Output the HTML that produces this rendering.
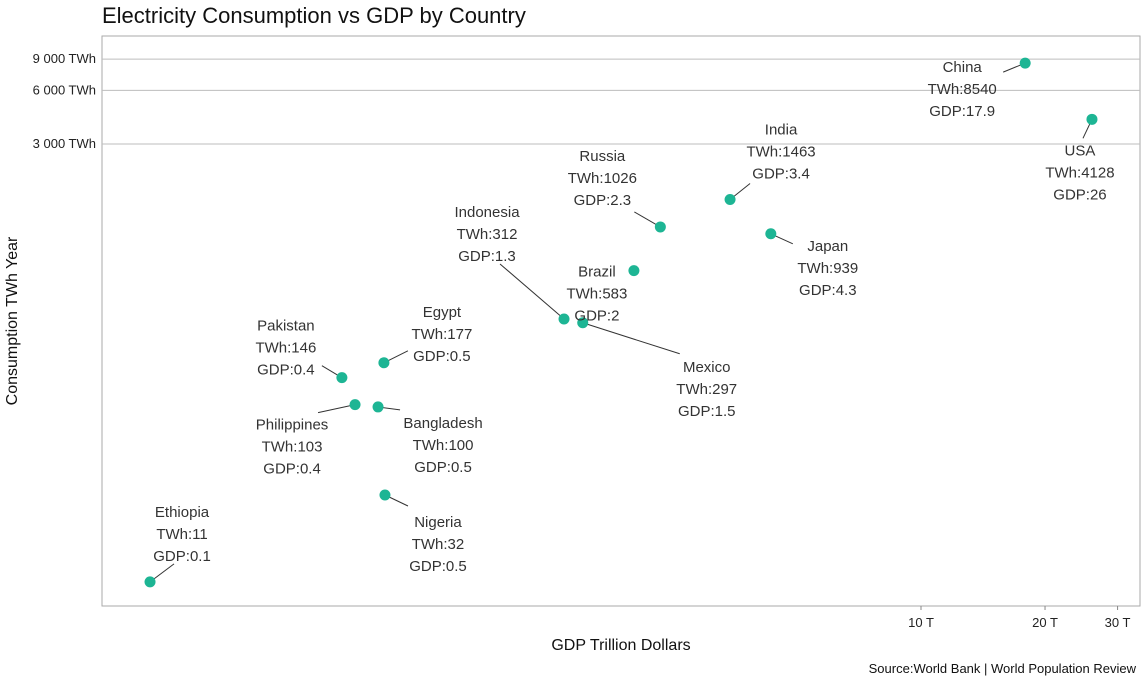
<!DOCTYPE html>
<html><head><meta charset="utf-8"><style>
body{margin:0;background:#fff;font-family:"Liberation Sans",sans-serif;}
svg text{font-family:"Liberation Sans",sans-serif;}
</style></head><body>
<svg width="1143" height="678" viewBox="0 0 1143 678">
<text x="102" y="23" font-size="22" fill="#111">Electricity Consumption vs GDP by Country</text>
<rect x="102" y="36" width="1038" height="570" fill="none" stroke="#aaa"/>
<g id="grid"></g><g id="leaders"></g><g id="dots"></g><g id="labels"></g>
<text x="621" y="650" font-size="16" text-anchor="middle" fill="#111">GDP Trillion Dollars</text>
<text transform="translate(17,321) rotate(-90)" font-size="16" text-anchor="middle" fill="#111">Consumption TWh Year</text>
<text x="1136" y="673" font-size="13" text-anchor="end" fill="#111">Source:World Bank | World Population Review</text>
</svg>
<script>
const countries=["China","USA","India","Japan","Russia","Brazil","Indonesia","Mexico","Egypt","Pakistan","Philippines","Bangladesh","Nigeria","Ethiopia"];
const gdp=[17.9,26,3.44,4.32,2.33,2.01,1.36,1.51,0.497,0.393,0.423,0.481,0.50,0.1345];
const gdpLabel=["17.9","26","3.4","4.3","2.3","2","1.3","1.5","0.5","0.4","0.4","0.5","0.5","0.1"];
const twh=[8540,4128,1463,939,1026,583,312,297,177,146,103,100,32,10.4];
const twhLabel=["8540","4128","1463","939","1026","583","312","297","177","146","103","100","32","11"];
const yTicks=[3000,6000,9000];
const yTickLabels=["3 000 TWh","6 000 TWh","9 000 TWh"];
const xTicks=[10,20,30];
const xTickLabels=["10 T","20 T","30 T"];
const lab=[[-63,4,-22,9],[-12,31,-9,19],[51,-70,20,-16],[57,12,22,10],[-58,-71,-26,-15],[-37,1,null,null],[-77,-107,-64,-55],[124,44,97,31],[58,-51,24,-12],[-56,-52,-20,-12],[-63,20,-37,8],[65,16,22,3],[53,27,23,11],[32,-70,24,-18]];
const X=v=>921+412*Math.log10(v/10);
const Y=v=>144-178*Math.log10(v/3000);
const NS="http://www.w3.org/2000/svg";
function mk(t,a,p){const e=document.createElementNS(NS,t);for(const k in a)e.setAttribute(k,a[k]);p.appendChild(e);return e;}
const grid=document.getElementById('grid');
yTicks.forEach((v,i)=>{
 const l=mk('line',{x1:102,x2:1140,y1:Y(v),y2:Y(v),stroke:'#bdbdbd'},grid);
 
 
 const t=mk('text',{x:96,y:Y(v)+4,'font-size':13,'text-anchor':'end',fill:'#222'},grid);t.textContent=yTickLabels[i];
 
 
});
xTicks.forEach((v,i)=>{
 const l=mk('line',{x1:X(v),x2:X(v),y1:606,y2:610,stroke:'#888'},grid);
 
 
 const t=mk('text',{x:X(v),y:627,'font-size':13,'text-anchor':'middle',fill:'#222'},grid);t.textContent=xTickLabels[i];
 
 
});
const gL=document.getElementById('leaders'),gD=document.getElementById('dots'),gT=document.getElementById('labels');
countries.forEach((c,i)=>{
 const cx=X(gdp[i]),cy=Y(twh[i]),o=lab[i];
 if(o[2]!==null){const l=mk('line',{x1:cx+o[2],y1:cy+o[3],x2:cx,y2:cy,stroke:'#333','stroke-width':1},gL);
  
  }
 const d=mk('circle',{cx:cx,cy:cy,r:5.5,fill:'#1db594'},gD);
 
 
 const t=mk('text',{x:cx+o[0],y:cy+o[1]+5,'font-size':15,'text-anchor':'middle',fill:'#333'},gT);
 
 
 [c,'TWh:'+twhLabel[i],'GDP:'+gdpLabel[i]].forEach((s,k)=>{const ts=mk('tspan',{x:cx+o[0],dy:k?22:0},t);ts.textContent=s;});
});
</script>
</body></html>
